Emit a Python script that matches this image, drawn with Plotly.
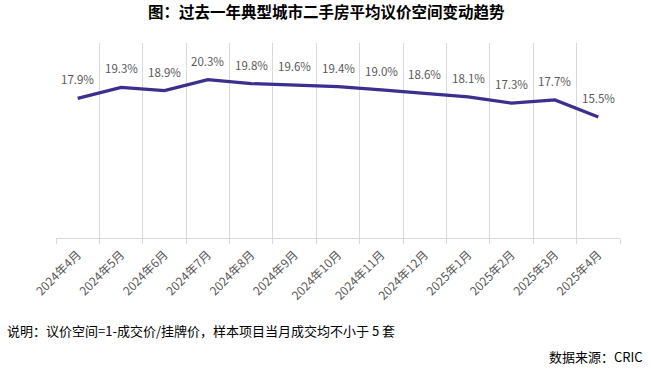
import plotly.graph_objects as go

categories = ["2024年4月", "2024年5月", "2024年6月", "2024年7月", "2024年8月", "2024年9月",
              "2024年10月", "2024年11月", "2024年12月", "2025年1月", "2025年2月", "2025年3月", "2025年4月"]
values = [17.9, 19.3, 18.9, 20.3, 19.8, 19.6, 19.4, 19.0, 18.6, 18.1, 17.3, 17.7, 15.5]
labels = [f"{v:.1f}%" for v in values]

title_text = "图：过去一年典型城市二手房平均议价空间变动趋势"
note_text = "说明：议价空间=1-成交价/挂牌价，样本项目当月成交均不小于 5 套"
source_text = "数据来源：CRIC"

FONT = "Noto Sans CJK SC"
GRID = "#d9d9d9"
TXT = "#595959"

fig = go.Figure()
fig.add_trace(go.Scatter(
    x=categories, y=values, mode="lines",
    line=dict(color="#3b2f8f", width=3.2),
    hoverinfo="x+y", showlegend=False,
))

annotations = []
for c, v, t in zip(categories, values, labels):
    annotations.append(dict(x=c, y=v, text=t, showarrow=False, xref="x", yref="y",
                            yshift=19, font=dict(family=FONT, size=11.5, color=TXT)))

annotations.append(dict(text=note_text, x=-0.0904, y=-0.472, xref="paper", yref="paper",
                        xanchor="left", yanchor="middle", showarrow=False,
                        font=dict(family=FONT, size=13, color="#000000")))
annotations.append(dict(text=source_text, x=1.0443, y=-0.610, xref="paper", yref="paper",
                        xanchor="right", yanchor="middle", showarrow=False,
                        font=dict(family=FONT, size=13, color="#000000")))

fig.update_layout(
    width=651, height=374,
    margin=dict(l=56, r=31, t=43, b=136, autoexpand=False),
    paper_bgcolor="white", plot_bgcolor="white",
    title=dict(text=f"<b>{title_text}</b>", x=0.501, xanchor="center", y=1 - 13 / 374,
               yanchor="middle", font=dict(family=FONT, size=15.5, color="#000000")),
    xaxis=dict(type="category", tickson="boundaries", showgrid=True, gridcolor=GRID, gridwidth=1,
               ticks="outside", ticklen=5, tickcolor=GRID, showline=True, linecolor=GRID,
               linewidth=1, tickangle=-45, range=[-0.5, 12.5], automargin=False,
               ticklabelstandoff=4,
               tickfont=dict(family=FONT, size=12, color=TXT)),
    yaxis=dict(range=[0, 25], showgrid=False, showticklabels=False, zeroline=False,
               showline=False, ticks="", automargin=False),
    annotations=annotations,
)

fig.write_html("out.html", config={"displayModeBar": False},
               post_script="document.body.style.margin='0';document.body.style.overflow='hidden';")
